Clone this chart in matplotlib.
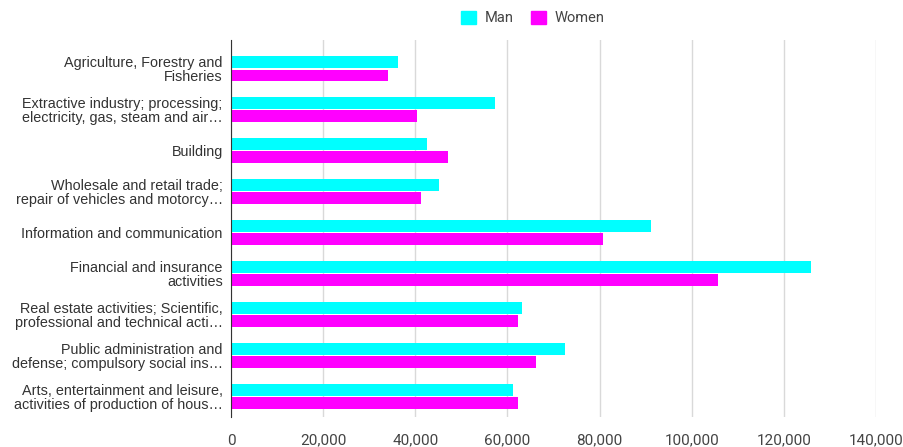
import numpy as np
import matplotlib.pyplot as plt
from matplotlib.patches import Patch

categories = [
    "Agriculture, Forestry and\nFisheries",
    "Extractive industry; processing;\nelectricity, gas, steam and air\u2026",
    "Building",
    "Wholesale and retail trade;\nrepair of vehicles and motorcy\u2026",
    "Information and communication",
    "Financial and insurance\nactivities",
    "Real estate activities; Scientific,\nprofessional and technical acti\u2026",
    "Public administration and\ndefense; compulsory social ins\u2026",
    "Arts, entertainment and leisure,\nactivities of production of hous\u2026",
]
man = [36300, 57300, 42500, 45200, 91100, 125800, 63200, 72500, 61200]
women = [34000, 40400, 47000, 41300, 80700, 105600, 62200, 66200, 62200]
xticks = [0, 20000, 40000, 60000, 80000, 100000, 120000, 140000]

c_man = "#00ffff"
c_women = "#ff00ff"

fig = plt.figure(figsize=(9.04, 4.47), dpi=100)
ax = fig.add_axes([231 / 904, 30 / 447, 645 / 904, 377 / 447])

y = np.arange(len(categories))
h = 0.29
ax.barh(y - 0.165, man, height=h, color=c_man, zorder=3)
ax.barh(y + 0.165, women, height=h, color=c_women, zorder=3)

ax.set_ylim(len(categories) - 0.5, -0.7)
ax.set_xlim(0, 140000)
ax.set_xticks(xticks)
ax.set_xticklabels(["{:,}".format(v) for v in xticks], fontsize=11, color="#444444",
                   family="Roboto")
ax.set_yticks(y)
ax.set_yticklabels(categories, fontsize=10.4, color="#333333", family="Liberation Sans",
                   linespacing=1.0)
ax.tick_params(axis="both", length=0)
ax.tick_params(axis="y", pad=6)
ax.tick_params(axis="x", pad=12)

ax.grid(axis="x", color="#d9d9d9", linewidth=1, zorder=0)
for s in ["top", "right", "bottom"]:
    ax.spines[s].set_visible(False)
ax.spines["left"].set_color("#333333")
ax.spines["left"].set_zorder(4)

handles = [Patch(color=c_man, label="Man"), Patch(color=c_women, label="Women")]
fig.legend(handles=handles, loc="center", bbox_to_anchor=(533 / 904, 1 - 18 / 447),
           ncol=2, frameon=False, handlelength=1.0, handleheight=1.0,
           columnspacing=1.2, handletextpad=0.6, prop={"family": "Roboto", "size": 10.5})
for t in fig.legends[0].get_texts():
    t.set_color("#444444")

fig.savefig("out.png", dpi=100)
